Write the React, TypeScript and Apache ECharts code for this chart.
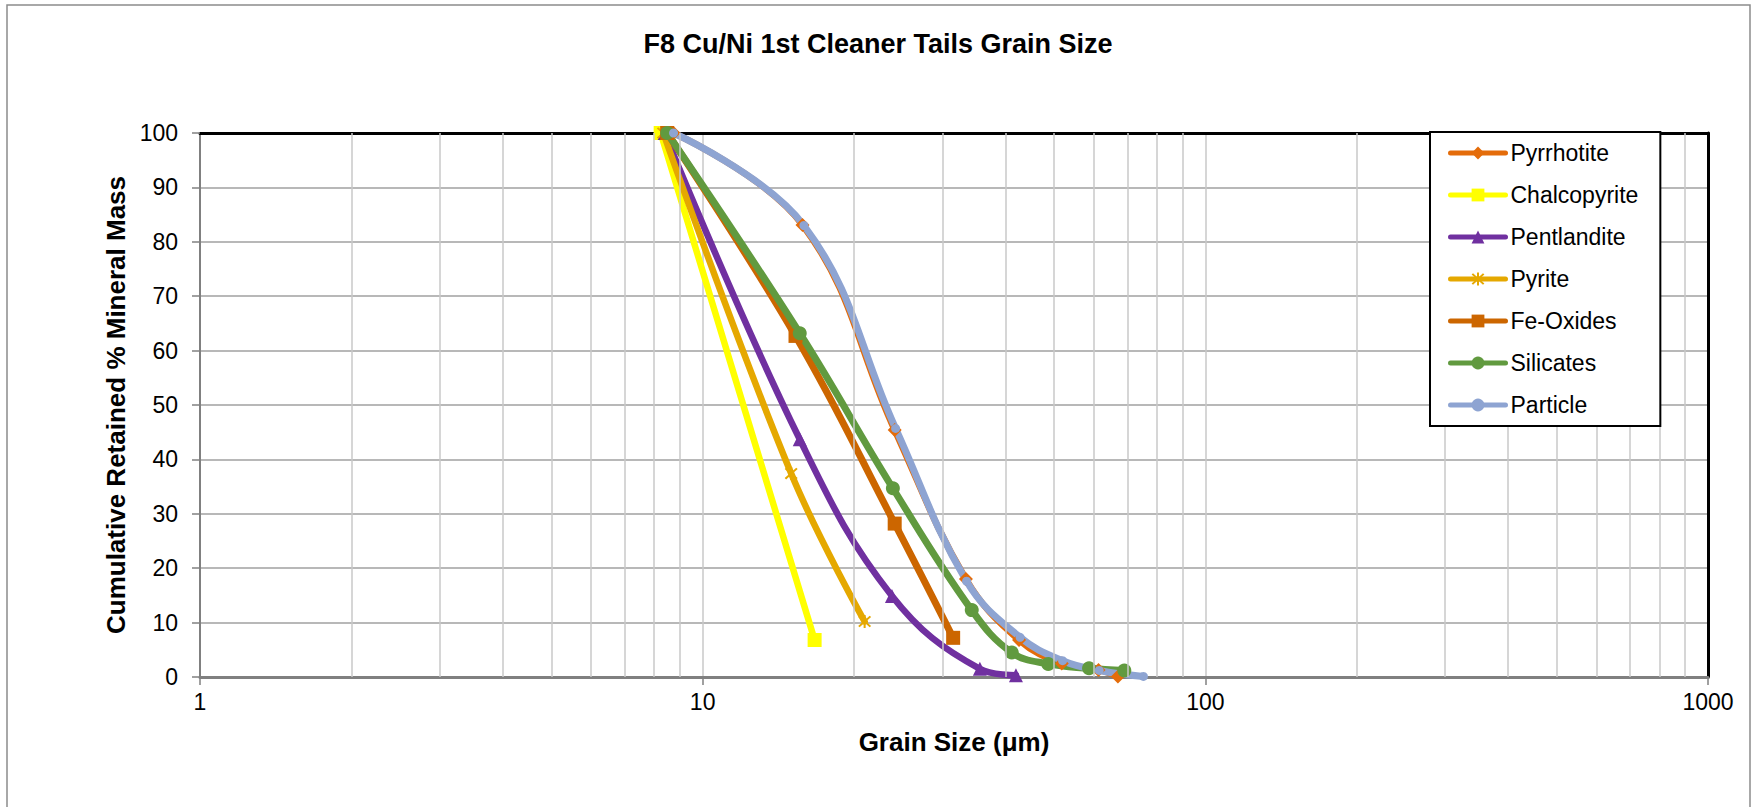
import React, { useEffect, useRef } from "react";
import * as echarts from "echarts";

const titleText = "F8 Cu/Ni 1st Cleaner Tails Grain Size";
const xAxisTitle = "Grain Size (μm)";
const yAxisTitle = "Cumulative Retained % Mineral Mass";

const seriesNames = ["Pyrrhotite", "Chalcopyrite", "Pentlandite", "Pyrite", "Fe-Oxides", "Silicates", "Particle"];

const pyrrhotiteX = [8.75, 15.8, 24.1, 33.4, 42.6, 51.8, 61.3, 67.0];
const pyrrhotiteY = [100, 83.1, 45.4, 18.0, 6.8, 2.5, 1.3, 0.1];
const chalcopyriteX = [8.25, 16.7];
const chalcopyriteY = [100, 6.8];
const pentlanditeX = [8.4, 15.6, 23.8, 35.6, 42.0];
const pentlanditeY = [100, 43.7, 14.9, 1.5, 0.3];
const pyriteX = [8.35, 15.0, 21.0];
const pyriteY = [100, 37.4, 10.2];
const feOxidesX = [8.5, 15.3, 24.1, 31.5];
const feOxidesY = [100, 62.7, 28.2, 7.2];
const silicatesX = [8.5, 15.6, 23.9, 34.3, 41.2, 48.7, 58.7, 69.0];
const silicatesY = [100, 63.2, 34.7, 12.3, 4.5, 2.4, 1.6, 1.2];
const particleX = [8.75, 15.9, 24.2, 33.5, 42.8, 52.0, 61.5, 75.3];
const particleY = [100, 83.0, 45.7, 17.6, 7.3, 3.0, 1.2, 0.1];

const minorGridX = [2, 3, 4, 5, 6, 7, 8, 9, 20, 30, 40, 50, 60, 70, 80, 90, 200, 300, 400, 500, 600, 700, 800, 900];

const FONT = "'Liberation Sans', Arial, sans-serif";

const asterisk =
  "path://M4.3 0 H5.7 V10 H4.3 Z M0.5 1.5 L1.5 0.5 L9.5 8.5 L8.5 9.5 Z M8.5 0.5 L9.5 1.5 L1.5 9.5 L0.5 8.5 Z";

function pairs(xs: number[], ys: number[]) {
  return xs.map((x, i) => [x, ys[i]]);
}

export default function App() {
  const ref = useRef<HTMLDivElement>(null);
  useEffect(() => {
    if (!ref.current) return;
    const chart = echarts.init(ref.current, null, { renderer: "svg" });

    const mk = (name: string, xs: number[], ys: number[], color: string, symbol: string, size: number, width: number) => ({
      name,
      type: "line",
      xAxisIndex: 0,
      yAxisIndex: 0,
      data: pairs(xs, ys),
      smooth: 0.4,
      symbol,
      symbolSize: size,
      showSymbol: true,
      lineStyle: { color, width, cap: "round", join: "round" },
      itemStyle: { color, borderWidth: 0 },
      emphasis: { disabled: true },
      z: 3,
    });

    const option: any = {
      animation: false,
      backgroundColor: "#ffffff",
      textStyle: { fontFamily: FONT },
      title: {
        text: titleText,
        left: "center",
        top: 25,
        textStyle: { fontFamily: FONT, fontSize: 27, fontWeight: "bold", color: "#000" },
      },
      graphic: [
        {
          type: "rect",
          shape: { x: 7, y: 5, width: 1743, height: 830 },
          style: { fill: "none", stroke: "#8c8c8c", lineWidth: 1.5 },
          silent: true,
          z: 0,
        },
      ],
      grid: { left: 200, top: 133, width: 1508, height: 544, containLabel: false },
      legend: {
        data: seriesNames,
        orient: "vertical",
        left: 1430,
        top: 132,
        backgroundColor: "#ffffff",
        borderColor: "#000000",
        borderWidth: 2,
        borderRadius: 0,
        padding: [9, 22, 9, 18],
        itemWidth: 55,
        itemHeight: 16,
        itemGap: 18,
        lineStyle: { width: 5 },
        textStyle: { fontFamily: FONT, fontSize: 23, color: "#000", lineHeight: 24 },
        selectedMode: false,
        z: 10,
      },
      xAxis: [
        {
          type: "log",
          logBase: 10,
          min: 1,
          max: 1000,
          name: xAxisTitle,
          nameLocation: "middle",
          nameGap: 52,
          nameTextStyle: { fontFamily: FONT, fontSize: 26, fontWeight: "bold", color: "#000" },
          axisLine: { show: true, lineStyle: { color: "#808080", width: 3 } },
          axisTick: { show: true, inside: false, length: 8, lineStyle: { color: "#808080", width: 1.5 } },
          axisLabel: {
            fontFamily: FONT,
            fontSize: 23,
            color: "#000",
            margin: 13,
            formatter: (v: number) => String(Math.round(v)),
          },
          splitLine: { show: true, lineStyle: { color: "#c8c8c8", width: 1.5 } },
        },
        {
          type: "value",
          position: "top",
          min: 0,
          max: 1,
          axisLine: { show: true, onZero: false, lineStyle: { color: "#000", width: 3 } },
          axisTick: { show: false },
          axisLabel: { show: false },
          splitLine: { show: false },
        },
      ],
      yAxis: [
        {
          type: "value",
          min: 0,
          max: 100,
          interval: 10,
          name: yAxisTitle,
          nameLocation: "middle",
          nameGap: 67,
          nameRotate: 90,
          nameTextStyle: { fontFamily: FONT, fontSize: 26, fontWeight: "bold", color: "#000" },
          axisLine: { show: true, lineStyle: { color: "#808080", width: 2 } },
          axisTick: { show: true, inside: false, length: 8, lineStyle: { color: "#808080", width: 1.5 } },
          axisLabel: { fontFamily: FONT, fontSize: 23, color: "#000", margin: 22 },
          splitLine: { show: true, lineStyle: { color: "#a0a0a0", width: 1.5 } },
        },
        {
          type: "value",
          position: "right",
          min: 0,
          max: 1,
          axisLine: { show: true, onZero: false, lineStyle: { color: "#000", width: 3 } },
          axisTick: { show: false },
          axisLabel: { show: false },
          splitLine: { show: false },
        },
      ],
      series: [
        {
          name: "minor-grid",
          type: "line",
          xAxisIndex: 0,
          yAxisIndex: 0,
          data: [],
          z: 1,
          markLine: {
            silent: true,
            symbol: "none",
            label: { show: false },
            lineStyle: { color: "#c8c8c8", width: 1.5, type: "solid" },
            emphasis: { disabled: true },
            data: minorGridX.map((v) => ({ xAxis: v })),
          },
        },
        mk(seriesNames[0], pyrrhotiteX, pyrrhotiteY, "#E46C0A", "diamond", 14, 6.5),
        mk(seriesNames[1], chalcopyriteX, chalcopyriteY, "#FFFF00", "rect", 14, 6.5),
        mk(seriesNames[2], pentlanditeX, pentlanditeY, "#7030A0", "triangle", 14, 6.5),
        mk(seriesNames[3], pyriteX, pyriteY, "#E5A800", asterisk, 13, 6.5),
        mk(seriesNames[4], feOxidesX, feOxidesY, "#CC6600", "rect", 14, 7),
        mk(seriesNames[5], silicatesX, silicatesY, "#619A3F", "circle", 14, 7),
        mk(seriesNames[6], particleX, particleY, "#8EA4D2", "circle", 9, 7),
      ],
    };
    chart.setOption(option);
    return () => {
      chart.dispose();
    };
  }, []);

  return (
    <div
      ref={ref}
      style={{ position: "fixed", left: 0, top: 0, width: 1756, height: 807, background: "#fff" }}
    />
  );
}
